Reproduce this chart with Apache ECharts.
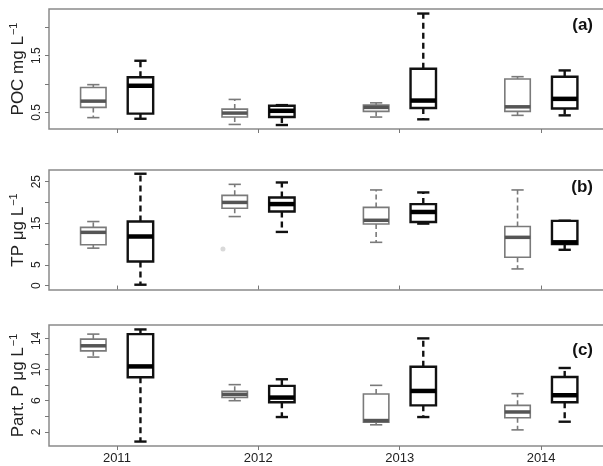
<!DOCTYPE html>
<html>
<head>
<meta charset="utf-8">
<script src="https://cdn.jsdelivr.net/npm/echarts@6/dist/echarts.min.js"></script>
<style>
  html, body { margin: 0; padding: 0; background: #fff; }
  #chart { width: 603px; height: 466px; }
</style>
</head>
<body>
<div id="chart"></div>
<script>
const years = ['2011', '2012', '2013', '2014']

// each row: [low whisker, q1, median, q3, high whisker]
const pocGray = [[0.41, 0.59, 0.70, 0.94, 0.99], [0.29, 0.42, 0.49, 0.56, 0.73], [0.42, 0.52, 0.59, 0.63, 0.67], [0.45, 0.52, 0.60, 1.09, 1.13]]
const pocBlack = [[0.39, 0.48, 0.97, 1.12, 1.41], [0.28, 0.42, 0.53, 0.62, 0.63], [0.38, 0.58, 0.71, 1.27, 2.24], [0.45, 0.57, 0.74, 1.13, 1.24]]
const tpGray = [[9.0, 9.8, 12.8, 14.0, 15.4], [16.6, 18.6, 20.0, 21.7, 24.35], [10.4, 14.8, 15.7, 18.8, 23.0], [4.0, 6.8, 11.6, 14.2, 23.0]]
const tpBlack = [[0.2, 5.8, 11.8, 15.4, 26.9], [12.9, 17.8, 19.6, 21.2, 24.8], [14.9, 15.3, 17.7, 19.6, 22.4], [8.6, 10.0, 10.4, 15.55, 15.6]]
const tpOutliers = [[3.75, 8.8]]
const ppGray = [[11.6, 12.4, 13.05, 13.9, 14.55], [6.0, 6.4, 6.8, 7.2, 8.06], [2.9, 3.25, 3.45, 6.85, 7.97], [2.25, 3.8, 4.55, 5.4, 6.9]]
const ppBlack = [[0.75, 9.0, 10.4, 14.55, 15.15], [3.9, 5.8, 6.4, 7.9, 8.75], [3.9, 5.4, 7.25, 10.35, 14.0], [3.3, 5.8, 6.7, 9.05, 10.2]]

const pocTicks = [0.5, 1.0, 1.5, 2.0]
const pocLabels = [0.5, 1.5]
const tpTicks = [0, 5, 10, 15, 20, 25]
const tpLabels = [0, 5, 15, 25]
const ppTicks = [2, 4, 6, 8, 10, 12, 14]
const ppLabels = [2, 6, 10, 14]

const yearPos = years.map((y, i) => 1.5 + 3 * i)

const chart = echarts.init(document.getElementById('chart'))

function boxData(rows, offset) {
  return rows.map((r, i) => [offset + 3 * i].concat(r))
}

function boxRenderer(color, medColor, lw, medW, dashPattern) {
  return function (params, api) {
    const x = api.value(0)
    const unit = api.size([1, 0])[0]
    const hw = unit * 0.27
    const sw = unit * 0.13
    const cx = api.coord([x, 0])[0]
    const yl = api.coord([x, api.value(1)])[1]
    const y1 = api.coord([x, api.value(2)])[1]
    const ym = api.coord([x, api.value(3)])[1]
    const y3 = api.coord([x, api.value(4)])[1]
    const yh = api.coord([x, api.value(5)])[1]
    const dash = { stroke: color, lineWidth: lw, lineDash: dashPattern, fill: null }
    const solid = { stroke: color, lineWidth: lw, fill: null }
    return {
      type: 'group',
      children: [
        { type: 'line', shape: { x1: cx, y1: y3, x2: cx, y2: yh }, style: dash },
        { type: 'line', shape: { x1: cx, y1: y1, x2: cx, y2: yl }, style: dash },
        { type: 'line', shape: { x1: cx - sw, y1: yh, x2: cx + sw, y2: yh }, style: solid },
        { type: 'line', shape: { x1: cx - sw, y1: yl, x2: cx + sw, y2: yl }, style: solid },
        { type: 'rect', shape: { x: cx - hw, y: y3, width: 2 * hw, height: y1 - y3 }, style: { stroke: color, lineWidth: lw, fill: '#fff' } },
        { type: 'line', shape: { x1: cx - hw, y1: ym, x2: cx + hw, y2: ym }, style: { stroke: medColor, lineWidth: medW } }
      ]
    }
  }
}

// plot frames run past the right edge of the picture, as in the original
const grids = [
  { left: 49, top: 9, width: 560, height: 120 },
  { left: 49, top: 170, width: 560, height: 120 },
  { left: 49, top: 325, width: 560, height: 121 }
].map(g => Object.assign(g, { show: true, outerBoundsMode: 'none', borderColor: '#8a8a8a', borderWidth: 1.5, backgroundColor: 'transparent' }))

function xAxis(idx, showLabels) {
  return {
    type: 'value', gridIndex: idx, min: 0.06, max: 11.94,
    axisLine: { show: false },
    splitLine: { show: false },
    axisTick: { show: true, customValues: yearPos, length: 4, lineStyle: { color: '#777', width: 1 } },
    axisLabel: {
      show: showLabels, customValues: yearPos, margin: 6,
      fontFamily: 'Liberation Sans', fontSize: 13, color: '#222',
      formatter: v => years[Math.round((v - 1.5) / 3)]
    }
  }
}

function yAxis(idx, min, max, ticks, labels, name) {
  return {
    type: 'value', gridIndex: idx, min: min, max: max,
    axisLine: { show: false },
    splitLine: { show: false },
    axisTick: { show: true, customValues: ticks, length: 4, lineStyle: { color: '#777', width: 1 } },
    axisLabel: {
      customValues: labels, rotate: 90, margin: 6,
      fontFamily: 'Liberation Sans', fontSize: 12, color: '#222',
      formatter: v => String(v)
    },
    name: name, nameLocation: 'middle', nameGap: 21, nameRotate: 90, nameMoveOverlap: false,
    nameTextStyle: {
      fontFamily: 'Liberation Sans', fontSize: 17, color: '#222',
      rich: { sup: { fontFamily: 'Liberation Sans', fontSize: 11, color: '#222', verticalAlign: 'top', padding: [0, 0, 9, 1] } }
    }
  }
}

const panelTitle = (text, top) => ({
  text: text, right: 5, top: top,
  textStyle: { fontFamily: 'Liberation Sans', fontSize: 17, fontWeight: 'bold', color: '#111' }
})

function boxSeries(rows, offset, grid, gray) {
  return {
    type: 'custom', xAxisIndex: grid, yAxisIndex: grid,
    renderItem: gray ? boxRenderer('#7a7a7a', '#555', 1.6, 3.5, [5, 3]) : boxRenderer('#111', '#000', 2.4, 4.5, [6, 4]),
    encode: { x: 0, y: [1, 2, 3, 4, 5] },
    data: boxData(rows, offset),
    animation: false, silent: true
  }
}

const option = {
  animation: false,
  title: [panelTitle('(a)', 12), panelTitle('(b)', 174), panelTitle('(c)', 337)],
  grid: grids,
  xAxis: [xAxis(0, false), xAxis(1, false), xAxis(2, true)],
  yAxis: [
    yAxis(0, 0.21, 2.32, pocTicks, pocLabels, 'POC mg L{sup|−1}'),
    yAxis(1, -1.07, 27.8, tpTicks, tpLabels, 'TP μg L{sup|−1}'),
    yAxis(2, 0.18, 15.72, ppTicks, ppLabels, 'Part. P μg L{sup|−1}')
  ],
  series: [
    boxSeries(pocGray, 1, 0, true),
    boxSeries(pocBlack, 2, 0, false),
    boxSeries(tpGray, 1, 1, true),
    boxSeries(tpBlack, 2, 1, false),
    {
      type: 'scatter', xAxisIndex: 1, yAxisIndex: 1, data: tpOutliers,
      symbolSize: 5, itemStyle: { color: '#d0d0d0' }, silent: true
    },
    boxSeries(ppGray, 1, 2, true),
    boxSeries(ppBlack, 2, 2, false)
  ]
}

chart.setOption(option)
</script>
</body>
</html>
